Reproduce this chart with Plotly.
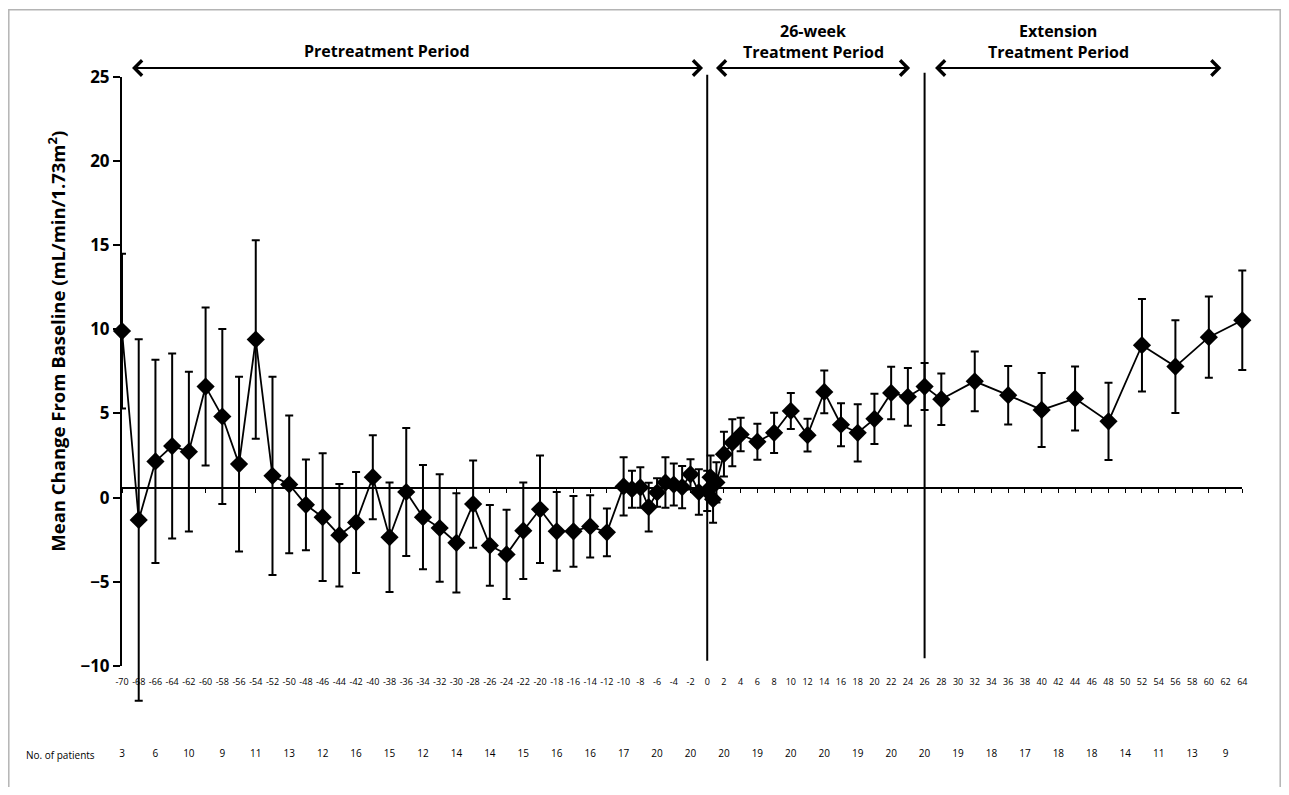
import plotly.graph_objects as go

# ---------------- data ----------------
weeks = [-70, -68, -66, -64, -62, -60, -58, -56, -54, -52, -50, -48, -46, -44, -42,
         -40, -38, -36, -34, -32, -30, -28, -26, -24, -22, -20, -18, -16, -14, -12,
         -10, -9, -8, -7, -6, -5, -4, -3, -2, -1, 0, 0.4, 0.7, 1.1,
         2, 3, 4, 6, 8, 10, 12, 14, 16, 18, 20, 22, 24, 26,
         28, 32, 36, 40, 44, 48, 52, 56, 60, 64]
mean_change = [9.9, -1.33, 2.15, 3.06, 2.73, 6.6, 4.82, 1.99, 9.4, 1.29, 0.78, -0.43, -1.17, -2.24, -1.48,
               1.21, -2.36, 0.33, -1.17, -1.81, -2.69, -0.39, -2.85, -3.38, -1.97, -0.7, -2.01, -2.01, -1.72, -2.07,
               0.66, 0.5, 0.6, -0.57, 0.3, 0.89, 0.77, 0.62, 1.38, 0.33, 0.4, 1.2, -0.1, 0.9,
               2.58, 3.26, 3.75, 3.32, 3.85, 5.15, 3.71, 6.28, 4.33, 3.85, 4.68, 6.22, 5.99, 6.6,
               5.85, 6.91, 6.09, 5.21, 5.89, 4.53, 9.06, 7.79, 9.54, 10.54]
error = [4.6, 10.75, 6.05, 5.5, 4.75, 4.7, 5.2, 5.2, 5.9, 5.9, 4.1, 2.7, 3.8, 3.05, 3.0,
         2.5, 3.25, 3.8, 3.1, 3.2, 2.95, 2.6, 2.4, 2.65, 2.87, 3.2, 2.34, 2.1, 1.85, 1.42,
         1.73, 1.1, 1.2, 1.45, 0.85, 1.5, 1.25, 1.25, 0.9, 1.35, 1.2, 1.3, 1.4, 1.2,
         1.33, 1.4, 1.0, 1.07, 1.2, 1.07, 0.97, 1.27, 1.28, 1.7, 1.5, 1.56, 1.72, 1.4,
         1.53, 1.78, 1.74, 2.2, 1.9, 2.3, 2.75, 2.76, 2.42, 2.96]

x_tick_vals = list(range(-70, 66, 2))
x_tick_text = [str(v) for v in x_tick_vals]
y_tick_vals = [-10, -5, 0, 5, 10, 15, 20, 25]
y_tick_text = ["\u221210", "\u22125", "0", "5", "10", "15", "20", "25"]

patient_weeks = list(range(-70, 63, 4))
patient_counts = [3, 6, 10, 9, 11, 13, 12, 16, 15, 12, 14, 14, 15, 16, 16, 17,
                  20, 20, 20, 19, 20, 20, 19, 20, 20, 19, 18, 17, 18, 18, 14, 11, 13, 9]

period_lines = [0, 26]
period_names = ["Pretreatment Period", "26-week", "Treatment Period", "Extension", "Treatment Period"]

# ---------------- geometry ----------------
FONT = "Open Sans"
PAGE_OFF = 8                      # default body margin of the html page
FIG_W, FIG_H = 1273, 779
M_L, M_R, M_T, M_B = 114, 22, 61, 9
PLOT_W = FIG_W - M_L - M_R        # 1137
PLOT_H = FIG_H - M_T - M_B        # 709
PX_PER_UNIT = 17.08
X_LO, X_HI = -70, 66
Y_HI = 25 + (77.3 - (PAGE_OFF + M_T)) / PX_PER_UNIT
Y_LO = Y_HI - PLOT_H / PX_PER_UNIT
BASE_Y = 0.57
PATIENT_ROW_Y = -15.3
PLOT_LEFT_WIN = PAGE_OFF + M_L
PLOT_BOTTOM_WIN = PAGE_OFF + M_T + PLOT_H


def py(v):
    return (v - Y_LO) / (Y_HI - Y_LO)


def paper_x(px):  # window pixel -> paper x
    return (px - PLOT_LEFT_WIN) / PLOT_W


def paper_y(px):  # window pixel -> paper y
    return (PLOT_BOTTOM_WIN - px) / PLOT_H


fig = go.Figure()

fig.add_trace(go.Scatter(
    x=weeks, y=mean_change, mode="lines+markers",
    line=dict(color="black", width=1.8),
    marker=dict(symbol="diamond", size=14, color="black"),
    error_y=dict(type="data", array=error, visible=True, color="black", thickness=2, width=4),
    cliponaxis=False, showlegend=False, hoverinfo="skip"))

fig.add_trace(go.Scatter(
    x=patient_weeks, y=[PATIENT_ROW_Y] * len(patient_weeks), mode="text",
    text=[str(c) for c in patient_counts],
    textfont=dict(family=FONT, size=10, color="black"),
    cliponaxis=False, showlegend=False, hoverinfo="skip"))

# helper traces so the decorative axes are drawn
fig.add_trace(go.Scatter(x=[0], y=[0], xaxis="x2", yaxis="y2", mode="markers",
                         marker=dict(opacity=0), showlegend=False, hoverinfo="skip"))
fig.add_trace(go.Scatter(x=[0], y=[0], xaxis="x3", yaxis="y", mode="markers",
                         marker=dict(opacity=0), showlegend=False, hoverinfo="skip"))

shapes = []
line_tops = [25.14, 25.27]
line_bottoms = [-9.7, -9.55]
for xv, yt, yb in zip(period_lines, line_tops, line_bottoms):
    shapes.append(dict(type="line", xref="x", yref="y", x0=xv, x1=xv, y0=yb, y1=yt,
                       line=dict(color="black", width=2)))
shapes.append(dict(type="rect", xref="paper", yref="paper",
                   x0=paper_x(8.8), x1=paper_x(1280.2), y0=paper_y(830), y1=paper_y(8.8),
                   line=dict(color="#b4b4b4", width=1.5), fillcolor="rgba(0,0,0,0)"))

annotations = []
arrows = [(-68.98, -0.5), (0.87, 24.27), (27.07, 61.5)]
for a0, a1 in arrows:
    annotations.append(dict(x=a1, y=paper_y(68), ax=a0, ay=0, xref="x", yref="paper",
                            axref="x", ayref="pixel", text="", showarrow=True,
                            arrowhead=4, startarrowhead=4, arrowside="end+start",
                            arrowsize=1.35, startarrowsize=1.35, arrowwidth=2.2, arrowcolor="black",
                            standoff=0, startstandoff=0))

label_pos = [(-38.3, 51), (12.7, 30), (12.7, 52), (41.9, 30), (42.0, 52)]
for name, (lx, ly) in zip(period_names, label_pos):
    annotations.append(dict(x=lx, y=paper_y(ly), xref="x", yref="paper", text="<b>" + name + "</b>",
                            showarrow=False, xanchor="center", yanchor="middle",
                            font=dict(family=FONT, size=16, color="black")))

annotations.append(dict(x=paper_x(57), y=paper_y(346), xref="paper", yref="paper",
                        text="<b>Mean Change From Baseline (mL/min/1.73m<sup>2</sup>)</b>",
                        textangle=-90, showarrow=False, xanchor="center", yanchor="middle",
                        font=dict(family=FONT, size=18.5, color="black")))
annotations.append(dict(x=paper_x(97), y=PATIENT_ROW_Y, xref="paper", yref="y", text="No. of patients",
                        showarrow=False, xanchor="right", yanchor="middle",
                        font=dict(family=FONT, size=10, color="black")))

fig.update_layout(
    width=FIG_W, height=FIG_H,
    margin=dict(l=M_L, r=M_R, t=M_T, b=M_B),
    paper_bgcolor="white", plot_bgcolor="rgba(0,0,0,0)",
    font=dict(family=FONT, color="black"),
    showlegend=False,
    xaxis=dict(domain=[0, 1], range=[X_LO, X_HI], visible=False),
    yaxis=dict(domain=[0, 1], range=[Y_LO, Y_HI], visible=False),
    xaxis2=dict(domain=[0, 1], range=[X_LO, X_HI], anchor="y2", showline=False,
                ticks="", tickvals=x_tick_vals, ticktext=x_tick_text,
                tickfont=dict(family=FONT, size=9, color="black"),
                showgrid=False, zeroline=False, ticklabelstandoff=9),
    yaxis2=dict(domain=[py(-10), py(25)], range=[-10, 25], anchor="x2",
                showline=True, linecolor="black", linewidth=2,
                ticks="outside", ticklen=7, tickwidth=2, tickcolor="black",
                tickvals=y_tick_vals, ticktext=y_tick_text,
                tickfont=dict(family=FONT, size=17, color="black", weight="bold"),
                showgrid=False, zeroline=False),
    xaxis3=dict(domain=[0, (64 - X_LO) / (X_HI - X_LO)], range=[X_LO, 64], anchor="free",
                position=py(BASE_Y), showline=True, linecolor="black", linewidth=2,
                ticks="outside", ticklen=4, tickwidth=1, tickcolor="black",
                tick0=-70, dtick=2, showticklabels=False, showgrid=False, zeroline=False),
    shapes=shapes,
    annotations=annotations,
)

fig.write_html("out.html")
